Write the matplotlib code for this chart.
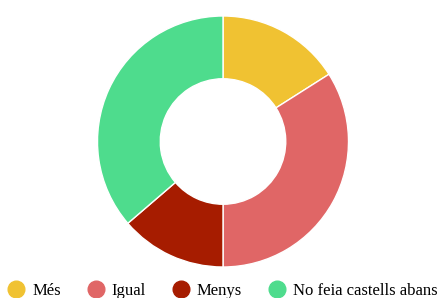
import matplotlib.pyplot as plt
from matplotlib.lines import Line2D

plt.rcParams["font.family"] = ["Liberation Serif", "DejaVu Serif"]

labels = ["Més", "Igual", "Menys", "No feia castells abans"]
values = [16, 34, 13.7, 36.3]
colors = ["#f0c232", "#e06666", "#a61c00", "#4edc8d"]

fig = plt.figure(figsize=(4.38, 2.98), dpi=100)
# donut: center ~ (223, 141) px, radius ~125 px
ax = fig.add_axes([(223 - 125.5) / 438, (298 - 141.5 - 125.5) / 298, 251 / 438, 251 / 298])
ax.pie(values, colors=colors, startangle=90, counterclock=False, radius=1,
       wedgeprops=dict(width=0.5, edgecolor="white", linewidth=1))
ax.set_xlim(-1, 1)
ax.set_ylim(-1, 1)
ax.set_aspect("equal")
ax.axis("off")

handles = [Line2D([], [], marker="o", linestyle="", markersize=12,
                  markerfacecolor=c, markeredgecolor=c) for c in colors]
fig.legend(handles, labels, loc="center", bbox_to_anchor=(0.5 + 3 / 438, 1 - 291 / 298),
           ncol=4, frameon=False, fontsize=12, handletextpad=0.35,
           columnspacing=1.5, handlelength=1.2, borderaxespad=0, borderpad=0)

fig.savefig("out.png", dpi=100)
